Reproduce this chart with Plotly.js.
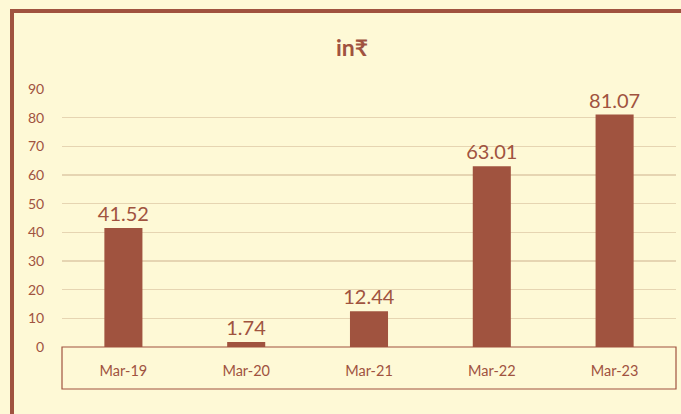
<!DOCTYPE html>
<html><head><meta charset="utf-8">
<script src="https://cdn.plot.ly/plotly-3.0.1.min.js"></script>
<style>html,body{margin:0;padding:0;background:#FEF9D6;}</style>
</head><body><div id="c" style="width:681px;height:414px;"></div>
<script>
const categories = ["Mar-19","Mar-20","Mar-21","Mar-22","Mar-23"];
const values = [41.52, 1.74, 12.44, 63.01, 81.07];
const labels = ["41.52","1.74","12.44","63.01","81.07"];
const yTicks = [0,10,20,30,40,50,60,70,80,90];

const brown = "#A0533F";
const FONT = "Lato, 'Noto Sans', 'DejaVu Sans', sans-serif";

Plotly.newPlot("c", [{
  type: "bar", x: categories, y: values, text: labels,
  textposition: "outside", cliponaxis: false, constraintext: "none",
  textfont: {size: 20, color: brown, family: FONT},
  marker: {color: brown}, width: 0.31, hoverinfo: "none"
}], {
  width: 681, height: 414,
  margin: {l: 62, r: 5, t: 89, b: 67},
  paper_bgcolor: "#FEF9D6", plot_bgcolor: "rgba(0,0,0,0)",
  font: {family: FONT, color: brown},
  title: {text: "<b>in₹</b>", font: {size: 23, color: brown, family: FONT}, x: 352/681, xanchor: "center", y: 0.885, yanchor: "middle"},
  showlegend: false,
  xaxis: {type: "category", showgrid: false, zeroline: false, showline: false,
          ticks: "outside", ticklen: 11, tickcolor: "rgba(0,0,0,0)",
          tickfont: {size: 14.5, color: brown, family: FONT}},
  yaxis: {range: [0, 90], tickvals: yTicks, showgrid: true, gridcolor: "#E6D5B2", gridwidth: 1.3,
          zeroline: false, showline: false, ticks: "outside", ticklen: 14, tickcolor: "rgba(0,0,0,0)",
          tickfont: {size: 14, color: brown, family: FONT}},
  shapes: [
    {type: "rect", xref: "paper", yref: "paper", x0: 0, x1: 1, y0: -42/258, y1: 0,
     line: {color: brown, width: 1.2}, fillcolor: "rgba(0,0,0,0)"},
    {type: "line", xref: "paper", yref: "paper", x0: -50/614, x1: -50/614, y0: 336/258, y1: -0.5,
     line: {color: brown, width: 4}},
    {type: "line", xref: "paper", yref: "paper", x0: -52/614, x1: 1.1, y0: 336/258, y1: 336/258,
     line: {color: brown, width: 4}}
  ]
}, {staticPlot: true});
</script></body></html>
